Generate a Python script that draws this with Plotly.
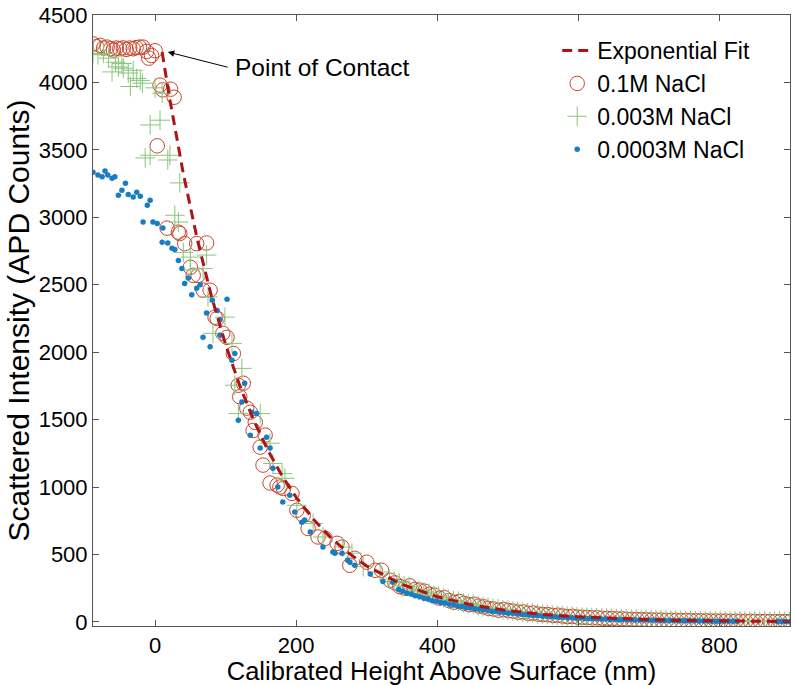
import plotly.graph_objects as go

# ---------------- data ----------------
# 0.1M NaCl (open circles)
x_01 = [-88, -83, -78, -73, -68, -63, -59, -55, -50, -45, -41, -36, -31, -27, -22, -17, -12, -9, -5, 0,
        3, 7, 11, 22, 27,
        17, 33, 35, 42, 59, 73, 50, 54, 61, 68, 78, 85, 88, 96, 102, 111, 125, 120, 118, 130, 135, 142,
        139, 156, 149, 153, 163, 173, 182, 194, 177, 201, 210, 217, 231, 241, 258, 265, 276, 283, 300,
        312, 321, 333,
        340, 347, 354, 361, 368, 375, 382, 389, 396, 403, 410, 417, 424, 431, 438, 445, 452, 459, 466,
        473, 480, 487, 494, 501, 508, 515, 522, 529, 536, 543, 550, 557, 564, 571, 578, 585, 592, 599,
        606, 613, 620, 627, 634, 641, 648, 655, 662, 669, 676, 683, 690, 697, 704, 711, 718, 725, 732,
        739, 746, 753, 760, 767, 774, 781, 788, 795, 802, 809, 816, 823, 830, 837, 844, 851, 858, 865,
        872, 879, 886, 893, 900]
y_01 = [4285, 4265, 4275, 4255, 4262, 4250, 4240, 4255, 4250, 4256, 4245, 4255, 4250, 4258, 4262, 4262, 4230, 4180, 4200, 4235,
        3530, 3980, 3945, 3950, 3890,
        2920, 2890, 2880, 2805, 2805, 2810, 2630, 2570, 2570, 2460, 2460, 2260, 2250, 2140, 2110, 1990, 1770, 1670, 1755, 1585, 1555, 1480,
        1420, 1385, 1296, 1163, 1030, 1015, 990, 953, 1000, 828, 790, 693, 630, 620, 583, 555, 420, 472, 443,
        383, 383, 309,
        290, 262, 250, 268, 240, 236, 228, 205, 198, 176, 180, 158, 146, 152, 138, 128, 131, 118, 112,
        100, 96, 87, 92, 84, 80, 72, 74, 64, 66, 58, 55, 54, 48, 50, 44, 40, 42, 36,
        35, 33, 30, 31, 27, 26, 25, 22, 23, 20, 19, 18, 17, 16, 15, 14, 14, 12, 13,
        11, 10, 11, 9, 9, 8, 8, 7, 7, 6, 7, 5, 6, 5, 4, 5, 4, 3, 4,
        3, 3, 2, 3, 2]

# 0.003M NaCl (plus signs)
x_003 = [-88, -81, -73, -66, -61, -56, -52, -47, -45, -38, -35, -31, -26, -21, -18, 0, 10, -7, 7, -14,
         -7, 18, 21, 35, 28, 33, 40, 50, 73, 50, 68, 75, 99, 82, 109, 123, 113, 118, 149, 163,
         167, 180, 184, 201, 224, 238, 266, 279, 295, 319,
         332, 339, 346, 353, 360, 367, 374, 381, 388, 395, 402, 409, 416, 423, 430, 437, 444, 451, 458,
         465, 472, 479, 486, 493, 500, 507, 514, 521, 528, 535, 542, 549, 556, 563, 570, 577, 584, 591,
         598, 605, 612, 619, 626, 633, 640, 647, 654, 661, 668, 675, 682, 689, 696, 703, 710, 717, 724,
         731, 738, 745, 752, 759, 766, 773, 780, 787, 794, 801, 808, 815, 822, 829, 836, 843, 850, 857,
         864, 871, 878, 885, 892, 899]
y_003 = [4215, 4205, 4215, 4180, 4078, 4150, 4115, 4140, 4105, 4070, 3970, 4090, 4030, 4015, 3995, 3960, 3920, 3685, 3720, 3440,
         3460, 3425, 3460, 3255, 3015, 2965, 2740, 2705, 2720, 2610, 2620, 2410, 2260, 2140, 2065, 1880, 1755, 1545, 1545, 1325,
         1175, 1100, 1065, 865, 730, 630, 555, 510, 410, 370,
         318, 300, 290, 268, 262, 246, 235, 222, 212, 196, 192, 180, 168, 158, 154, 142, 135, 132, 120,
         114, 110, 101, 97, 90, 86, 80, 78, 72, 68, 66, 61, 57, 55, 51, 48, 47, 43, 41,
         39, 36, 35, 33, 31, 29, 28, 26, 25, 23, 22, 21, 20, 18, 18, 17, 16, 15, 14,
         13, 13, 12, 11, 11, 10, 10, 9, 9, 8, 8, 7, 7, 6, 7, 6, 5, 6, 5,
         5, 4, 5, 4, 4, 3]

# 0.0003M NaCl (dots)
x_0003 = [-88, -81, -75, -71, -67, -61, -57, -52, -47, -42, -38, -31, -26, -21, -11, -7, -17, -3, 3, 11,
          10, 18, 24, 28, 33, 38, 42, 47, 52, 59, 64, 81, 102, 73, 88, 92, 68, 78, 92, 109,
          113, 127, 123, 118, 137, 144, 135, 158, 149, 163, 167, 174, 181, 191, 198, 208, 212, 220, 238, 252,
          255, 265, 273, 276, 283, 305, 323, 337,
          345, 351, 357, 363, 369, 375, 381, 387, 393, 399, 405, 411, 417, 423, 429, 435, 441, 447, 453,
          459, 465, 471, 477, 483, 489, 495, 501, 507, 513, 519, 525, 531, 537, 543, 549, 555, 561, 567,
          573, 579, 585, 591, 597, 603, 609, 615, 621, 627, 633, 639, 645, 651, 657, 663, 669, 675, 681,
          687, 693, 699, 705, 711, 717, 723, 729, 735, 741, 747, 753, 759, 765, 771, 777, 783, 789, 795,
          801, 807, 813, 819, 825, 882, 888, 894, 900]
y_0003 = [3335, 3313, 3300, 3343, 3313, 3290, 3300, 3163, 3200, 3253, 3170, 3150, 3186, 3157, 3090, 3127, 2965, 2965, 2955, 2920,
          2815, 2810, 2770, 2762, 2680, 2620, 2510, 2550, 2425, 2475, 2500, 2385, 2392, 2290, 2310, 2240, 2110, 2040, 2125, 1940,
          1990, 1770, 1630, 1495, 1555, 1545, 1385, 1370, 1290, 1290, 1140, 1000, 890, 940, 815, 740, 755, 666, 555, 518,
          510, 510, 458, 443, 420, 355, 300, 294,
          240, 230, 213, 208, 194, 186, 176, 172, 158, 153, 145, 140, 131, 127, 118, 115, 107, 105, 97,
          95, 88, 86, 80, 78, 72, 71, 65, 64, 59, 58, 53, 52, 48, 47, 43, 43, 39, 38,
          35, 35, 31, 32, 28, 29, 26, 26, 23, 24, 21, 22, 19, 20, 17, 18, 16, 16, 14,
          15, 13, 14, 12, 12, 11, 11, 10, 10, 9, 9, 8, 8, 8, 7, 7, 7, 6, 6,
          6, 5, 5, 5, 5, 3, 3, 3, 2]

# Exponential fit line
x_fit = [10, 20, 40, 60, 80, 100, 120, 140, 160, 180, 200, 225, 250, 275, 300, 350, 400, 450,
         500, 550, 600, 650, 700, 750, 800, 850, 900]
y_fit = [4225, 3900, 3324, 2832, 2413, 2056, 1752, 1493, 1272, 1084, 924, 757, 620, 508, 415, 278, 187, 125,
         84, 56, 38, 25, 17, 11, 8, 5, 3]

x_ticks = [0, 200, 400, 600, 800]
y_ticks = [0, 500, 1000, 1500, 2000, 2500, 3000, 3500, 4000, 4500]

FONT = "Liberation Sans, Arial, sans-serif"

fig = go.Figure()
fig.add_trace(go.Scatter(
    x=x_01, y=y_01, mode="markers", name="0.1M NaCl", legendrank=2,
    marker=dict(symbol="circle-open", size=14.5, color="rgb(200,70,45)", line=dict(width=1, color="rgb(200,70,45)"))))
fig.add_trace(go.Scatter(
    x=x_003, y=y_003, mode="markers", name="0.003M NaCl", legendrank=3,
    marker=dict(symbol="cross-thin", size=14, color="rgb(135,198,125)", line=dict(width=1, color="rgb(135,198,125)"))))
fig.add_trace(go.Scatter(
    x=x_0003, y=y_0003, mode="markers", name="0.0003M NaCl", legendrank=4,
    marker=dict(symbol="circle", size=5.5, color="rgb(25,125,195)", line=dict(width=0))))
fig.add_trace(go.Scatter(
    x=x_fit, y=y_fit, mode="lines", name="Exponential Fit", legendrank=1,
    line=dict(color="rgb(175,20,20)", width=3, dash="10px,6px")))

fig.add_annotation(
    x=18, y=4226, ax=105, ay=4110, axref="x", ayref="y", xref="x", yref="y",
    text="", showarrow=True, arrowhead=2, arrowsize=1.3, arrowwidth=1, arrowcolor="black")
fig.add_annotation(
    x=110, y=4110, xref="x", yref="y", text="Point of Contact", showarrow=False,
    xanchor="left", yanchor="middle", font=dict(family=FONT, size=24.5, color="black"))

axis_common = dict(
    showgrid=False, zeroline=False, showline=True, linecolor="#555555", linewidth=1,
    mirror="ticks", ticks="inside", ticklen=6, tickcolor="#555555",
    ticklabeloverflow="allow",
    tickfont=dict(family=FONT, size=22, color="black"))

fig.update_xaxes(range=[-88, 900], tickvals=x_ticks, ticktext=[str(v) for v in x_ticks],
                 title=dict(text="Calibrated Height Above Surface (nm)", font=dict(family=FONT, size=25.5, color="black"), standoff=0),
                 **axis_common)
fig.update_yaxes(range=[-30, 4500], tickvals=y_ticks, ticktext=[str(v) for v in y_ticks],
                 title=dict(text="Scattered Intensity (APD Counts)", font=dict(family=FONT, size=30, color="black"), standoff=0),
                 **axis_common)

fig.update_layout(
    width=796, height=685,
    margin=dict(l=93, r=6, t=15, b=59, autoexpand=False),
    paper_bgcolor="white", plot_bgcolor="white",
    showlegend=True,
    legend=dict(x=0.666, y=0.977, xanchor="left", yanchor="top", bgcolor="rgba(0,0,0,0)",
                font=dict(family=FONT, size=23, color="black"), tracegroupgap=0, itemsizing="trace"),
    font=dict(family=FONT),
)

# remove the browser's default 8px body margin so the figure sits at the page corner
fig.write_html("out.html", config={"displayModeBar": False},
               post_script="document.body.style.margin='0';document.body.style.overflow='hidden';")
